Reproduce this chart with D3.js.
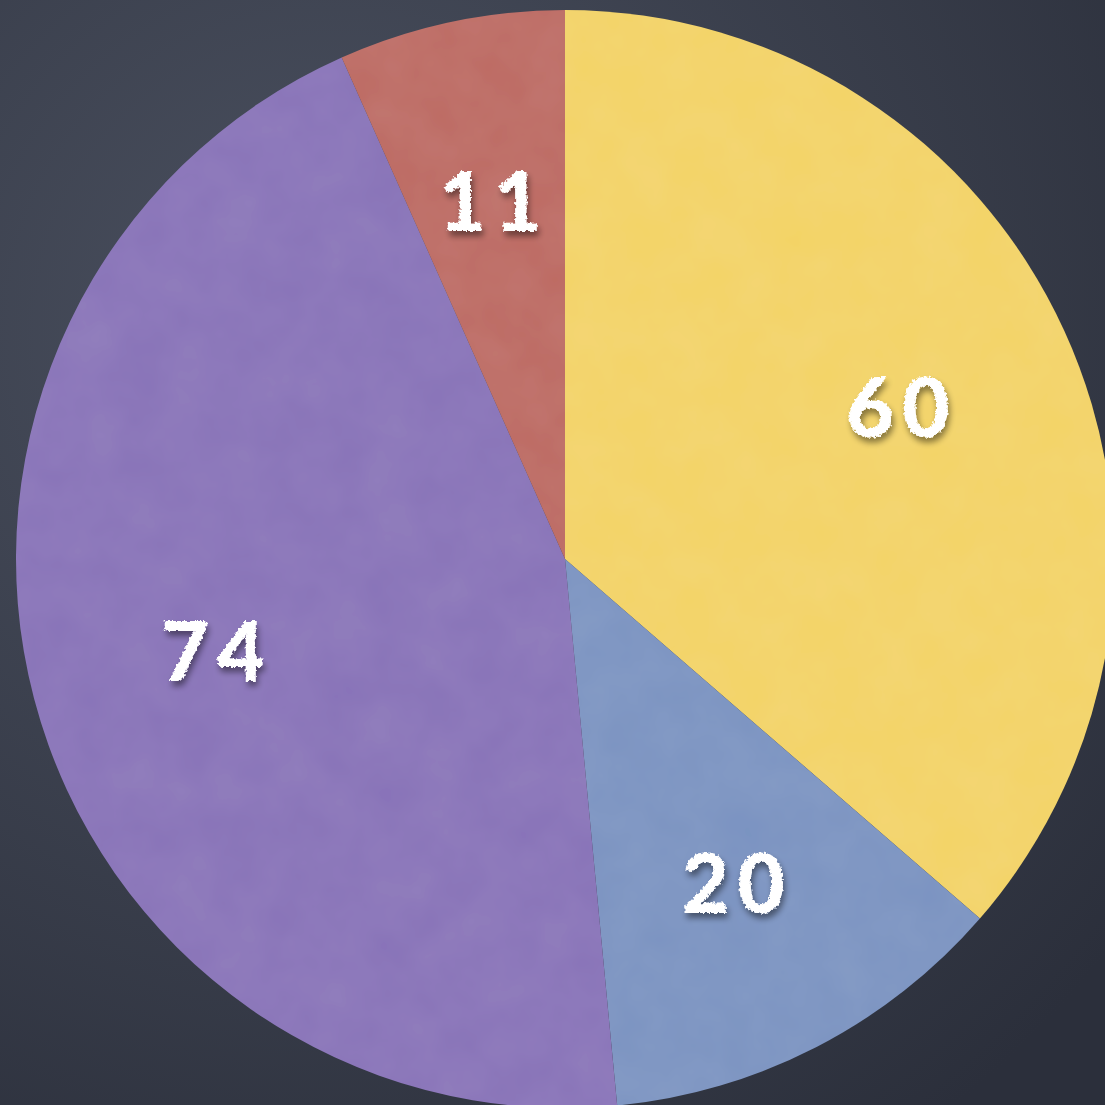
<!DOCTYPE html>
<html><head><meta charset="utf-8">
<script src="https://cdn.jsdelivr.net/npm/d3@7"></script>
<style>html,body{margin:0;padding:0;background:#3b414d;overflow:hidden}</style>
</head><body>
<script>
const categories = ["A", "B", "C", "D"];
const values = [60, 20, 74, 11];
const colors = ["#f3d365", "#7a93c1", "#8872b8", "#bd6961"];

const W = 1105, H = 1105;
const cx = 565, cy = 559, R = 549;

const svg = d3.select("body").append("svg").attr("width", W).attr("height", H);
const defs = svg.append("defs");
const bg = defs.append("radialGradient").attr("id", "bg")
  .attr("cx", "0.3").attr("cy", "0.3").attr("r", "0.9");
bg.append("stop").attr("offset", "0").attr("stop-color", "#4b5160");
bg.append("stop").attr("offset", "1").attr("stop-color", "#2b2f3b");

const noise = defs.append("filter").attr("id", "tex").attr("x", 0).attr("y", 0).attr("width", 1).attr("height", 1);
noise.append("feTurbulence").attr("type", "fractalNoise").attr("baseFrequency", 0.02).attr("numOctaves", 3).attr("seed", 3).attr("result", "n");
noise.append("feColorMatrix").attr("in", "n").attr("type", "matrix")
  .attr("values", "0 0 0 0 1  0 0 0 0 1  0 0 0 0 1  0 0 0 0.05 0").attr("result", "nw");
noise.append("feComposite").attr("in", "nw").attr("in2", "SourceGraphic").attr("operator", "atop");

const chalk = defs.append("filter").attr("id", "chalk").attr("x", "-20%").attr("y", "-20%").attr("width", "140%").attr("height", "140%");
chalk.append("feTurbulence").attr("type", "fractalNoise").attr("baseFrequency", 0.35).attr("numOctaves", 2).attr("seed", 5).attr("result", "t");
chalk.append("feDisplacementMap").attr("in", "SourceGraphic").attr("in2", "t").attr("scale", 5).attr("xChannelSelector", "R").attr("yChannelSelector", "G").attr("result", "d");
chalk.append("feGaussianBlur").attr("in", "SourceAlpha").attr("stdDeviation", 3).attr("result", "b");
chalk.append("feOffset").attr("in", "b").attr("dx", 2).attr("dy", 5).attr("result", "o");
chalk.append("feComponentTransfer").attr("in", "o").attr("result", "s")
  .append("feFuncA").attr("type", "linear").attr("slope", 0.45);
const m = chalk.append("feMerge");
m.append("feMergeNode").attr("in", "s");
m.append("feMergeNode").attr("in", "d");

svg.append("rect").attr("width", W).attr("height", H).attr("fill", "url(#bg)");

const g = svg.append("g").attr("transform", `translate(${cx},${cy})`);
const pie = d3.pie().sort(null).value(d => d)(values);
const arc = d3.arc().innerRadius(0).outerRadius(R);
const labelArc = d3.arc().innerRadius(R * 0.665).outerRadius(R * 0.665);

g.append("g").attr("filter", "url(#tex)")
  .selectAll("path").data(pie).join("path")
  .attr("d", arc)
  .attr("fill", (d, i) => colors[i]);

g.selectAll("text").data(pie).join("text")
  .attr("transform", d => `translate(${labelArc.centroid(d)})`)
  .attr("text-anchor", "middle")
  .attr("dx", 5)
  .attr("dy", "0.36em")
  .attr("font-family", "Lato, 'DejaVu Sans', sans-serif")
  .attr("font-weight", "900")
  .attr("font-size", 82)
  .attr("letter-spacing", 8)
  .attr("fill", "#ffffff")
  .attr("filter", "url(#chalk)")
  .text(d => d.data);
</script>
</body></html>
